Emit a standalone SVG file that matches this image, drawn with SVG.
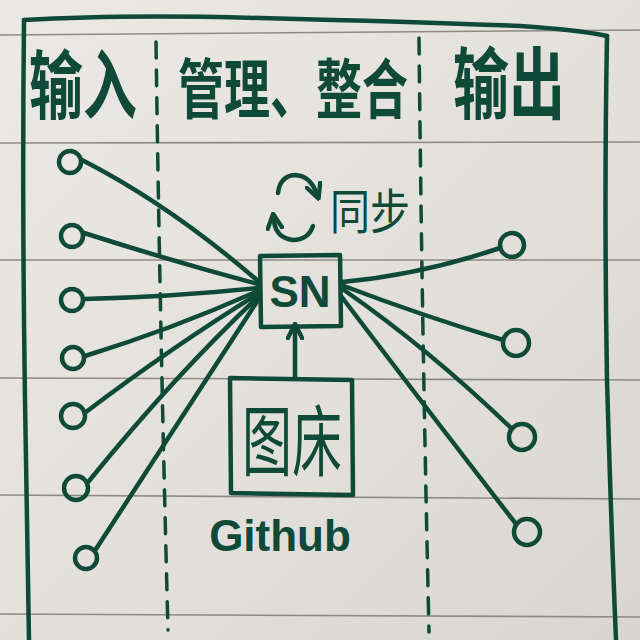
<svg xmlns="http://www.w3.org/2000/svg" width="640" height="640" viewBox="0 0 640 640">
<defs>
<linearGradient id="paper" x1="0" y1="0" x2="1" y2="1">
<stop offset="0" stop-color="#ebe9e5"/>
<stop offset="0.6" stop-color="#e2dfda"/>
<stop offset="1" stop-color="#d9d5cf"/>
</linearGradient>
<marker id="ah" viewBox="0 0 10 10" refX="5" refY="5" markerWidth="4" markerHeight="4" orient="auto">
<path d="M1,1 L9,5 L1,9" fill="none" stroke="#0f4a38" stroke-width="2.4" stroke-linecap="round" stroke-linejoin="round"/>
</marker>
<style>
.ink{fill:none;stroke:#0f4a38;stroke-width:4.5;stroke-linecap:round;stroke-linejoin:round}
.rule{stroke:#8e8a86;stroke-width:1.6}
.dash{fill:none;stroke:#0f4a38;stroke-width:3.5;stroke-linecap:round;stroke-dasharray:16 12}
.node{fill:none;stroke:#0f4a38;stroke-width:4.5}
.cjk{font-family:"Noto Sans CJK SC","Noto Sans CJK JP",sans-serif;fill:#0f4a38}
.hdr{font-weight:bold}
.lat{font-family:"Liberation Sans","DejaVu Sans",sans-serif;fill:#0f4a38;font-weight:bold}
</style>
</defs>
<rect x="0" y="0" width="640" height="640" fill="url(#paper)"/>
<g id="rules">
<line class="rule" x1="0" y1="35" x2="640" y2="30"/>
<line class="rule" x1="0" y1="143" x2="640" y2="142"/>
<line class="rule" x1="0" y1="260" x2="640" y2="260"/>
<line class="rule" x1="0" y1="378" x2="640" y2="380"/>
<line class="rule" x1="0" y1="495" x2="640" y2="499"/>
<line class="rule" x1="0" y1="614" x2="640" y2="617"/>
</g>
<g id="frame">
<path class="ink" d="M24,20 Q120,14 260,18 Q420,22 520,26 Q580,30 607,36"/>
<path class="ink" d="M24,20 Q22,200 25,400 Q27,540 29,640"/>
<path class="ink" d="M607,36 Q604,200 607,380 Q611,520 616,640"/>
<path class="dash" d="M156,42 Q160,330 168,630"/>
<path class="dash" d="M419,38 Q422,330 429,632"/>
</g>
<g id="headers">
<text class="cjk hdr" transform="translate(29,113) scale(1,1.4)" font-size="54">输入</text>
<text class="cjk hdr" transform="translate(178,113) scale(1,1.4)" font-size="46">管理、整合</text>
<text class="cjk hdr" transform="translate(453,113) scale(1,1.4)" font-size="56">输出</text>
</g>
<g id="connectors">
<path class="ink" d="M82,160 Q170,205 258,281"/>
<path class="ink" d="M84,233 Q175,262 258,284"/>
<path class="ink" d="M84,299 Q170,297 258,288"/>
<path class="ink" d="M85,356 Q170,330 258,291"/>
<path class="ink" d="M86,412 Q175,345 258,294"/>
<path class="ink" d="M89,481 Q175,375 258,297"/>
<path class="ink" d="M96,549 Q180,420 258,300"/>
<path class="ink" d="M342,282 Q420,275 500,248"/>
<path class="ink" d="M344,286 Q420,315 503,340"/>
<path class="ink" d="M344,290 Q430,350 511,428"/>
<path class="ink" d="M341,296 Q420,400 516,524"/>
<path class="ink" d="M295,377 L295,331" marker-end="url(#ah)"/>
</g>
<g id="inputs">
<circle class="node" cx="70" cy="162" r="11"/>
<circle class="node" cx="72" cy="236" r="11"/>
<circle class="node" cx="72" cy="300" r="11"/>
<circle class="node" cx="73" cy="358" r="11"/>
<circle class="node" cx="73" cy="416" r="12"/>
<circle class="node" cx="76" cy="488" r="12"/>
<circle class="node" cx="86" cy="558" r="11"/>
</g>
<g id="outputs">
<circle class="node" cx="512" cy="245" r="12"/>
<circle class="node" cx="516" cy="343" r="13"/>
<circle class="node" cx="522" cy="437" r="13"/>
<circle class="node" cx="527" cy="532" r="13"/>
</g>
<g id="sync">
<path class="ink" d="M278,193 Q280,176 295,175 Q310,176 316,192" marker-end="url(#ah)"/>
<path class="ink" d="M313,226 Q308,240 293,240 Q276,238 274,221" marker-end="url(#ah)"/>
<text class="cjk" transform="translate(330,229) scale(1,1.2)" font-size="40">同步</text>
</g>
<g id="sn">
<path class="ink" d="M260,256 L340,255 L341,326 L261,327 Z"/>
<text class="lat" x="300" y="307" font-size="44" text-anchor="middle">SN</text>
</g>
<g id="tuchuang">
<path class="ink" d="M230,378 L352,380 L353,495 L231,493 Z"/>
<text class="cjk" transform="translate(292,470) scale(1,1.55)" font-size="50" text-anchor="middle">图床</text>
</g>
<g id="github">
<text class="lat" x="280" y="551" font-size="44" text-anchor="middle">Github</text>
</g>
</svg>
